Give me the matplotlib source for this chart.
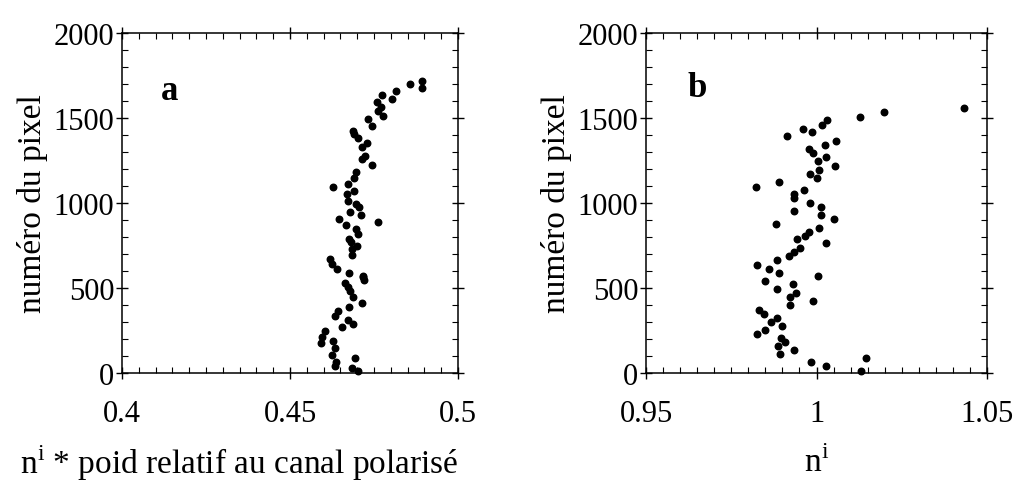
import matplotlib
matplotlib.use('Agg')
import matplotlib.pyplot as plt
from matplotlib.ticker import MultipleLocator

plt.rcParams['font.family'] = ['Liberation Serif', 'DejaVu Serif']
plt.rcParams['mathtext.fontset'] = 'custom'
plt.rcParams['mathtext.rm'] = 'Liberation Serif'

# panel a : n^i * poid relatif vs numero du pixel
a_x = [0.4894, 0.4893, 0.4857, 0.4815, 0.4803, 0.4773, 0.4758, 0.4770, 0.4776, 0.4763,
       0.4733, 0.4743, 0.4687, 0.4689, 0.4703, 0.4713, 0.4728, 0.4723, 0.4715, 0.4743,
       0.4696, 0.4691, 0.4673, 0.4627, 0.4691, 0.4671, 0.4673, 0.4696, 0.4706, 0.4679,
       0.4710, 0.4645, 0.4761, 0.4666, 0.4696, 0.4703, 0.4677, 0.4680, 0.4700, 0.4684,
       0.4683, 0.4619, 0.4624, 0.4639, 0.4675, 0.4716, 0.4718, 0.4719, 0.4664, 0.4674,
       0.4679, 0.4687, 0.4713, 0.4675, 0.4644, 0.4635, 0.4672, 0.4687, 0.4656, 0.4604,
       0.4595, 0.4592, 0.4629, 0.4634, 0.4624, 0.4694, 0.4637, 0.4634, 0.4683, 0.4703]
a_y = [1719, 1676, 1700, 1657, 1612, 1637, 1592, 1563, 1514, 1543,
       1494, 1455, 1425, 1406, 1380, 1327, 1353, 1278, 1259, 1224,
       1180, 1145, 1112, 1092, 1073, 1053, 1014, 994, 975, 949,
       931, 906, 890, 871, 847, 818, 788, 769, 749, 729,
       694, 671, 641, 612, 586, 569, 563, 549, 529, 504,
       480, 445, 412, 390, 367, 337, 312, 288, 269, 249,
       214, 175, 190, 145, 108, 88, 63, 43, 28, 12]

# panel b : n^i vs numero du pixel
b_x = [1.0431, 1.0198, 1.0127, 1.0032, 1.0016, 0.9960, 0.9988, 0.9914, 1.0056, 1.0024,
       0.9978, 0.9991, 1.0027, 1.0004, 1.0054, 1.0008, 0.9982, 1.0001, 0.9822, 0.9891,
       0.9962, 0.9933, 0.9933, 0.9980, 1.0014, 0.9935, 1.0014, 1.0050, 0.9880, 1.0007,
       0.9978, 0.9966, 0.9942, 1.0027, 0.9951, 0.9933, 0.9919, 0.9883, 0.9826, 0.9860,
       0.9891, 1.0004, 0.9850, 0.9931, 0.9884, 0.9940, 0.9923, 0.9991, 0.9922, 0.9832,
       0.9846, 0.9884, 0.9865, 0.9900, 0.9825, 0.9849, 0.9896, 0.9908, 0.9888, 0.9935,
       0.9894, 1.0144, 0.9985, 1.0029, 1.0131]
b_y = [1559, 1533, 1508, 1490, 1461, 1435, 1416, 1392, 1367, 1341,
       1318, 1292, 1271, 1247, 1220, 1194, 1171, 1147, 1096, 1122,
       1075, 1051, 1028, 1000, 978, 955, 931, 906, 876, 855,
       831, 808, 786, 763, 737, 710, 688, 663, 635, 612,
       590, 571, 541, 522, 494, 473, 449, 424, 402, 373,
       347, 325, 300, 278, 229, 253, 204, 182, 157, 137,
       112, 88, 63, 39, 14]

a_ticks = [0.4, 0.45, 0.5]
a_ticklabels = ['0.4', '0.45', '0.5']
b_ticks = [0.95, 1.0, 1.05]
b_ticklabels = ['0.95', '1', '1.05']
y_ticks = [0, 500, 1000, 1500, 2000]

fig = plt.figure(figsize=(10.33, 4.81), dpi=100)
ax_a = fig.add_axes([0.1181, 0.2225, 0.3253, 0.7069])
ax_b = fig.add_axes([0.6254, 0.2225, 0.3301, 0.7069])


def style(ax, ticks, ticklabels):
    ax.set_ylim(0, 2000)
    ax.set_xlim(ticks[0], ticks[-1])
    ax.set_xticks(ticks)
    ax.set_xticklabels(ticklabels)
    ax.set_yticks(y_ticks)
    ax.xaxis.set_minor_locator(MultipleLocator(0.005))
    ax.yaxis.set_minor_locator(MultipleLocator(100))
    ax.tick_params(which='major', direction='inout', length=9, width=1,
                   top=True, right=True, labelsize=22, pad=1)
    ax.tick_params(axis='x', which='major', pad=14)
    ax.tick_params(which='minor', direction='in', length=4, width=0.8,
                   top=True, right=True)
    for s in ax.spines.values():
        s.set_linewidth(1.1)
    ax.set_ylabel('numéro du pixel', fontsize=24, labelpad=4)


ax_a.scatter(a_x, a_y, s=22, color='black', clip_on=False, zorder=3)
style(ax_a, a_ticks, a_ticklabels)
ax_a.set_xlabel(r'n$^{\mathrm{i}}$ * poid relatif au canal polarisé', fontsize=24)
ax_a.xaxis.set_label_coords(0.35, -0.262)
ax_a.xaxis.label.set_va('center')
ax_a.text(0.143, 0.83, 'a', transform=ax_a.transAxes, fontsize=25,
          fontweight='bold', ha='center', va='center')

ax_b.scatter(b_x, b_y, s=22, color='black', clip_on=False, zorder=3)
style(ax_b, b_ticks, b_ticklabels)
ax_b.set_xlabel(r'n$^{\mathrm{i}}$', fontsize=24)
ax_b.xaxis.set_label_coords(0.5, -0.262)
ax_b.xaxis.label.set_va('center')
ax_b.text(0.15, 0.84, 'b', transform=ax_b.transAxes, fontsize=25,
          fontweight='bold', ha='center', va='center')

fig.savefig('out.png', dpi=100)
